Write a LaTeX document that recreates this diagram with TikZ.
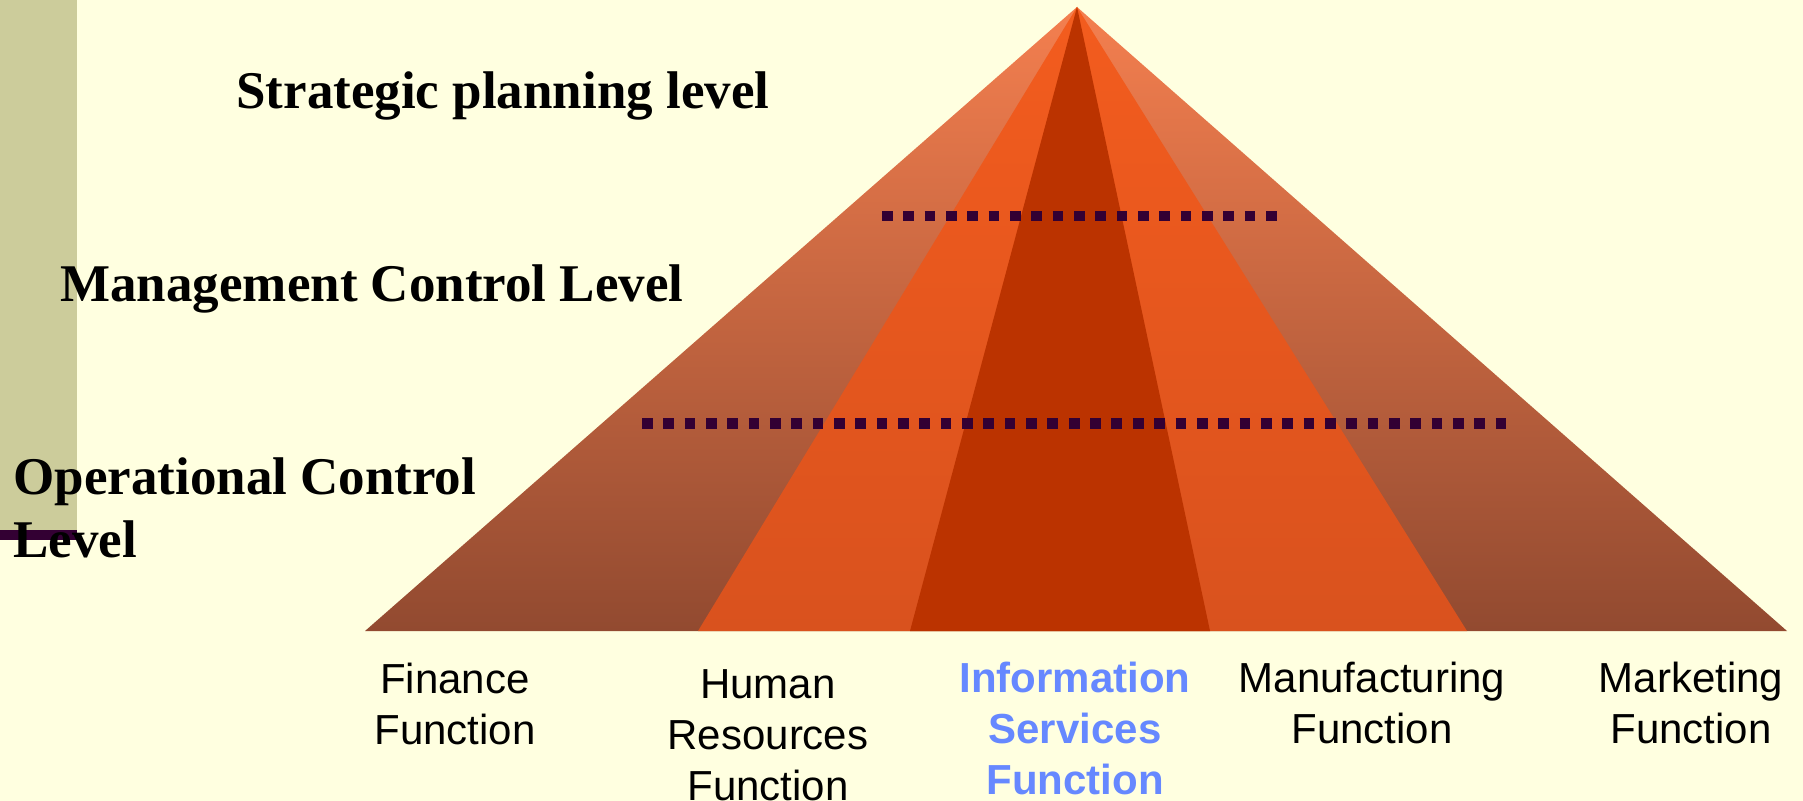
\documentclass[tikz,border=0pt]{standalone}
\usepackage{fontspec}
\setmainfont{Liberation Serif}
\setsansfont{Liberation Sans}
\definecolor{bgyellow}{RGB}{255,255,224}
\definecolor{barolive}{RGB}{204,204,155}
\definecolor{linepurple}{RGB}{51,0,51}
\definecolor{outertop}{RGB}{244,127,79}
\definecolor{outerbot}{RGB}{146,74,48}
\definecolor{midtop}{RGB}{243,92,30}
\definecolor{midbot}{RGB}{217,82,30}
\definecolor{innerred}{RGB}{187,51,0}
\definecolor{infoblue}{RGB}{102,136,255}
\tikzset{
levellabel/.style={font=\fontsize{26.5}{32}\selectfont\bfseries,anchor=base west,inner sep=0pt,align=left},
funclabel/.style={font=\sffamily\fontsize{21}{25.5}\selectfont,anchor=base,inner sep=0pt,align=center},
infolabel/.style={funclabel,font=\sffamily\bfseries\fontsize{21}{25.5}\selectfont,text=infoblue},
leveldots/.style={linepurple,line width=5.35pt,dash pattern=on 5.35pt off 5.32pt}
}
\begin{document}
\begin{tikzpicture}[x=0.5pt,y=-0.5pt]
\pgfmathsetmacro{\apx}{1077}
\pgfmathsetmacro{\apy}{7}
\pgfmathsetmacro{\bsy}{631}
\fill[bgyellow](0,0)rectangle(1803,801);
\fill[barolive](0,0)rectangle(77,530);
\fill[linepurple](0,530)rectangle(77,540);
% pyramid, outside in
\shade[top color=outertop,bottom color=outerbot](\apx,\apy)--(365,\bsy)--(1787,\bsy)--cycle;
\shade[top color=midtop,bottom color=midbot](\apx,\apy)--(698,\bsy)--(1467,\bsy)--cycle;
\fill[innerred](\apx,\apy)--(910,\bsy)--(1210,\bsy)--cycle;
% level borders
\foreach \xa/\xb/\y in {882/1278/216,642/1507/423.5}{\draw[leveldots](\xa,\y)--(\xb,\y);}
% labels, base = last line
\node[levellabel](strategic)at(236,109){Strategic planning level};
\node[levellabel](management)at(60,302){Management Control Level};
\node[levellabel](operational)at(13,558){Operational Control\\Level};
\node[funclabel](finance)at(455,744){Finance\\Function};
\node[funclabel](human)at(768,800){Human\\Resources\\Function};
\node[infolabel](infoserv)at(1075,794){Information\\Services\\Function};
\node[funclabel](manufact)at(1372,743){Manufacturing\\Function};
\node[funclabel](marketing)at(1691,743){Marketing\\Function};
\end{tikzpicture}
\end{document}
